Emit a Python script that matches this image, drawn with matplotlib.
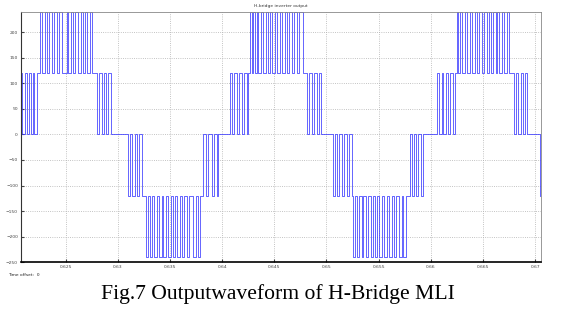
import matplotlib
matplotlib.use("Agg")
import matplotlib.pyplot as plt

# switching instants, in ms
# positive half 1
pos1_a = [620.70, 620.84, 621.10, 621.26, 621.48, 621.64, 621.84, 621.96, 622.22]
pos1_b = [622.54, 622.76, 623.02, 623.18, 623.43, 623.66, 623.91, 624.14, 624.36, 624.62, 625.10,
          625.25, 625.51, 625.73, 625.92, 626.21, 626.44, 626.63, 626.85, 627.07, 627.33, 627.55]
pos1_c = [627.97, 628.19, 628.45, 628.67, 628.86, 629.08, 629.34]
# negative half 1
neg1_a = [631.00, 631.19, 631.39, 631.60, 631.79, 632.01, 632.29]
neg1_b = [632.70, 632.92, 633.08, 633.30, 633.50, 633.73, 633.97, 634.20, 634.36, 634.62, 634.84, 635.07,
          635.26, 635.48, 635.70, 635.96, 636.18, 636.37, 636.60, 636.82, 637.23, 637.49, 637.71, 637.88]
neg1_c = [638.19, 638.45, 638.67, 639.00, 639.22, 639.48, 639.63]
# positive half 2
pos2_a = [640.75, 640.97, 641.17, 641.40, 641.62, 641.87, 642.12, 642.35, 642.51]
pos2_b = [642.67, 642.83, 642.99, 643.15, 643.31, 643.47, 643.73, 643.95, 644.18, 644.43, 644.59, 644.81,
          645.07, 645.29, 645.55, 645.77, 646.03, 646.19, 646.41, 646.67, 646.89, 647.15, 647.37, 647.78]
pos2_c = [648.11, 648.33, 648.59, 648.84, 649.07, 649.29, 649.48]
# negative half 2
neg2_a = [650.60, 650.82, 651.04, 651.23, 651.46, 651.68, 651.94, 652.19, 652.42]
neg2_b = [652.52, 652.74, 652.96, 653.15, 653.38, 653.53, 653.76, 654.01, 654.24, 654.43, 654.66, 654.82,
          655.07, 655.30, 655.52, 655.78, 656.03, 656.26, 656.48, 656.67, 656.99, 657.22, 657.37, 657.63]
neg2_c = [658.01, 658.17, 658.39, 658.59, 658.81, 659.04, 659.29]
# positive half 3
pos3_a = [660.57, 660.79, 661.05, 661.20, 661.46, 661.68, 661.85, 662.10, 662.33]
pos3_b = [662.49, 662.64, 662.80, 663.03, 663.28, 663.50, 663.76, 663.98, 664.24, 664.46, 664.66, 664.89,
          665.11, 665.37, 665.59, 665.78, 666.00, 666.26, 666.38, 666.57, 666.80, 667.02, 667.28, 667.50]
pos3_c = [667.98, 668.17, 668.39, 668.62, 668.87, 669.04, 669.26]
# start of negative half 3
neg3_a = [670.50]

# each band toggles between (level before first edge, level after first edge)
bands = [
    (pos1_a, 0, 120), (pos1_b, 120, 240), (pos1_c, 120, 0),
    (neg1_a, 0, -120), (neg1_b, -120, -240), (neg1_c, -120, 0),
    (pos2_a, 0, 120), (pos2_b, 120, 240), (pos2_c, 120, 0),
    (neg2_a, 0, -120), (neg2_b, -120, -240), (neg2_c, -120, 0),
    (pos3_a, 0, 120), (pos3_b, 120, 240), (pos3_c, 120, 0),
    (neg3_a, 0, -120),
]

t_start, t_end = 620.68, 670.56
xticks = [0.625, 0.63, 0.635, 0.64, 0.645, 0.65, 0.655, 0.66, 0.665, 0.67]
xlabels = ["0.625", "0.63", "0.635", "0.64", "0.645", "0.65", "0.655", "0.66", "0.665", "0.67"]
yticks = [-250, -200, -150, -100, -50, 0, 50, 100, 150, 200]

t = [t_start / 1000]
v = [0]
for edges, lo, hi in bands:
    for i, e in enumerate(edges):
        t.append(e / 1000)
        v.append(hi if i % 2 == 0 else lo)
t.append(t_end / 1000)
v.append(v[-1])

fig = plt.figure(figsize=(5.7, 3.21), dpi=100)
ax = fig.add_axes([0.0363, 0.183, 0.9127, 0.7806])
ax.step(t, v, where="post", color="#3a3aff", lw=0.55)

ax.set_xlim(t_start / 1000, t_end / 1000)
ax.set_ylim(-250, 240)
ax.set_xticks(xticks)
ax.set_xticklabels(xlabels)
ax.set_yticks(yticks)
ax.tick_params(labelsize=3.2, length=2, direction="in", colors="#444444", pad=2)
ax.grid(True, linestyle=":", color="#b0b0b0", lw=0.6)

for s in ["top", "right"]:
    ax.spines[s].set_color("#888888")
    ax.spines[s].set_linewidth(0.6)
ax.spines["left"].set_color("#333333")
ax.spines["left"].set_linewidth(0.8)
ax.spines["bottom"].set_color("black")
ax.spines["bottom"].set_linewidth(1.2)

fig.text(0.4926, 0.981, "H-bridge inverter output", fontsize=3.2, ha="center", va="center", color="#333333")
fig.text(0.014, 0.143, "Time offset:  0", fontsize=3.2, ha="left", va="center", color="#222222")
fig.text(0.487, 0.085, "Fig.7 Outputwaveform of H-Bridge MLI", fontsize=15.6,
         family="Liberation Serif", ha="center", va="center", color="black")

fig.savefig("out.png", dpi=100)
